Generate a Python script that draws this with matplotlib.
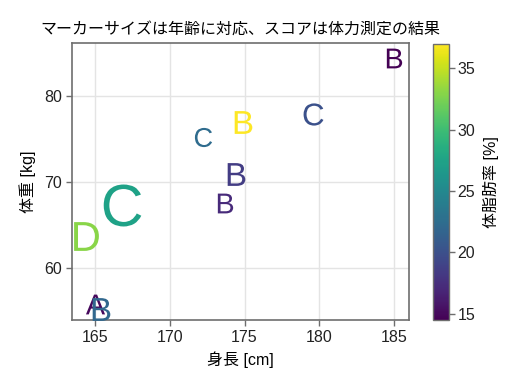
import numpy as np
import matplotlib
matplotlib.use("Agg")
import matplotlib.pyplot as plt
from matplotlib.colors import Normalize
from matplotlib.cm import ScalarMappable

plt.rcParams['font.family'] = ['Liberation Sans', 'Noto Sans CJK JP']
plt.rcParams['mathtext.fontset'] = 'custom'
plt.rcParams['mathtext.rm'] = 'Liberation Sans'

# ---- data ----
height_cm = [185.0, 174.9, 179.6, 172.2, 174.4, 173.7, 166.8, 164.4, 165.0, 165.4]
weight_kg = [84.4, 77.0, 77.9, 75.2, 70.9, 67.6, 67.4, 63.7, 55.8, 55.3]
body_fat = [14.5, 37.0, 20.1, 22.4, 18.5, 17.2, 27.5, 33.0, 15.0, 22.0]
ages = [33, 38, 37, 32, 38, 33, 70, 48, 33, 38]
scores = ['B', 'B', 'C', 'C', 'B', 'B', 'C', 'D', 'A', 'B']

# draw A first so B sits on top of it, as in the original
order = [8, 0, 1, 2, 3, 4, 5, 6, 7, 9]

fig = plt.figure(figsize=(5.2, 3.9), dpi=100)
ax = fig.add_axes([0.1385, 0.1795, 0.648, 0.710])
cax = fig.add_axes([0.8327, 0.1795, 0.0308, 0.708])

norm = Normalize(vmin=min(body_fat), vmax=max(body_fat))
cmap = plt.get_cmap('viridis')

for i in order:
    size_pt = 0.6 * ages[i] * 72 / 100
    ax.scatter(height_cm[i], weight_kg[i], marker=r'$\mathrm{%s}$' % scores[i],
               s=size_pt ** 2, color=cmap(norm(body_fat[i])), linewidths=0, zorder=3)

ax.set_xlim(163.46, 186.0)
ax.set_ylim(54.0, 86.15)
ax.set_xticks([165, 170, 175, 180, 185])
ax.set_yticks([60, 70, 80])
ax.grid(True, color='#e4e4e4', linewidth=1.0, zorder=0)
ax.set_axisbelow(True)

for s in ax.spines.values():
    s.set_color('#6e6e6e')
    s.set_linewidth(1.2)
ax.tick_params(direction='out', length=4, width=1, color='#6e6e6e',
               labelsize=11.5, labelcolor='#222222', pad=3)

ax.set_title('マーカーサイズは年齢に対応、スコアは体力測定の結果', fontsize=11.5, pad=7)
ax.set_xlabel('身長 [cm]', fontsize=11.5, labelpad=5)
ax.set_ylabel('体重 [kg]', fontsize=11.5, labelpad=6)

cb = fig.colorbar(ScalarMappable(norm=norm, cmap=cmap), cax=cax)
cb.set_ticks([15, 20, 25, 30, 35])
cb.outline.set_edgecolor('#6e6e6e')
cb.outline.set_linewidth(1.0)
cax.tick_params(direction='out', length=4, width=1, color='#6e6e6e',
                labelsize=11.5, labelcolor='#222222', pad=2)
cb.set_label('体脂肪率 [%]', fontsize=11.5, labelpad=6)

fig.savefig('out.png', dpi=100)
